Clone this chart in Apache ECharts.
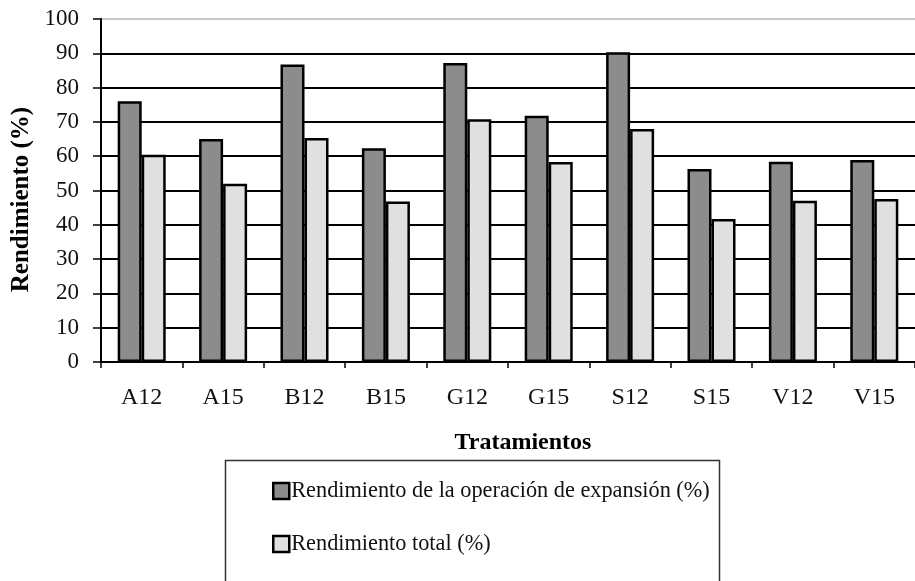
<!DOCTYPE html>
<html>
<head>
<meta charset="utf-8">
<script src="https://cdn.jsdelivr.net/npm/echarts@6/dist/echarts.min.js"></script>
<style>
  html, body { margin: 0; padding: 0; background: #fff; }
  #chart { width: 915px; height: 581px; }
</style>
</head>
<body>
<div id="chart"></div>
<script>
// tratamientos y rendimientos (%)
var tratamientos = ['A12', 'A15', 'B12', 'B15', 'G12', 'G15', 'S12', 'S15', 'V12', 'V15'];
var rendExpansion = [76, 65, 86.7, 62.3, 87.2, 71.8, 90.3, 56.3, 58.4, 58.9];
var rendTotal = [60.4, 52, 65.3, 46.8, 70.8, 58.3, 67.9, 41.7, 47, 47.5];
var ticksY = [0, 10, 20, 30, 40, 50, 60, 70, 80, 90, 100];

var fuente = 'Liberation Serif';

// lineas de la rejilla: la ultima (100) es gris
var coloresRejilla = ticksY.map(function (v) {
    return v === 100 ? '#c8c8c8' : '#000';
});

var mcharts = echarts.init(document.getElementById('chart'));

var option = {
    animation: false,
    textStyle: {
        fontFamily: fuente,
        color: '#000'
    },
    grid: {
        left: 101,
        right: 0,
        top: 19,
        bottom: 219,
        outerBoundsMode: 'none'
    },
    // marco de la leyenda
    graphic: [{
        type: 'rect',
        left: 223,
        top: 458,
        shape: { width: 494, height: 200 },
        style: { fill: 'none', stroke: '#333', lineWidth: 1.5 }
    }],
    legend: {
        orient: 'vertical',
        left: 272,
        top: 480,
        padding: 0,
        height: 100,
        itemGap: 31,
        itemWidth: 16,
        itemHeight: 16,
        icon: 'rect',
        itemStyle: {
            borderColor: '#000',
            borderWidth: 2.5
        },
        textStyle: {
            fontFamily: fuente,
            fontSize: 22.3,
            color: '#111',
            padding: [0, 0, 0, -3]
        },
        data: ['Rendimiento de la operación de expansión (%)', 'Rendimiento total (%)']
    },
    xAxis: {
        type: 'category',
        data: tratamientos,
        name: 'Tratamientos',
        nameLocation: 'middle',
        nameGap: 69,
        nameTextStyle: {
            fontFamily: fuente,
            fontWeight: 'bold',
            fontSize: 24,
            color: '#000',
            padding: [0, 0, 0, 30]
        },
        axisLine: { lineStyle: { color: '#000', width: 2 } },
        axisTick: { show: true, length: 6, lineStyle: { color: '#000', width: 1.5 } },
        axisLabel: {
            fontFamily: fuente,
            fontSize: 24,
            color: '#111',
            margin: 24
        }
    },
    yAxis: {
        type: 'value',
        min: 0,
        max: 100,
        interval: 10,
        name: 'Rendimiento (%)',
        nameLocation: 'middle',
        nameGap: 66,
        nameTextStyle: {
            fontFamily: fuente,
            fontWeight: 'bold',
            fontSize: 25,
            color: '#000',
            padding: [0, 18, 0, 0]
        },
        axisLine: { show: true, lineStyle: { color: '#000', width: 2 } },
        axisTick: { show: true, length: 8, lineStyle: { color: '#000', width: 1.5 } },
        axisLabel: {
            fontFamily: fuente,
            fontSize: 23,
            color: '#111',
            margin: 22
        },
        splitLine: {
            show: true,
            lineStyle: { color: coloresRejilla, width: 1.8 }
        }
    },
    series: [
        {
            name: 'Rendimiento de la operación de expansión (%)',
            type: 'bar',
            data: rendExpansion,
            barGap: '0%',
            barCategoryGap: '41%',
            itemStyle: { color: '#8c8c8c', borderColor: '#000', borderWidth: 2.5 }
        },
        {
            name: 'Rendimiento total (%)',
            type: 'bar',
            data: rendTotal,
            barGap: '0%',
            barCategoryGap: '41%',
            itemStyle: { color: '#e0e0e0', borderColor: '#000', borderWidth: 2.5 }
        }
    ]
};

mcharts.setOption(option, true);
</script>
</body>
</html>
